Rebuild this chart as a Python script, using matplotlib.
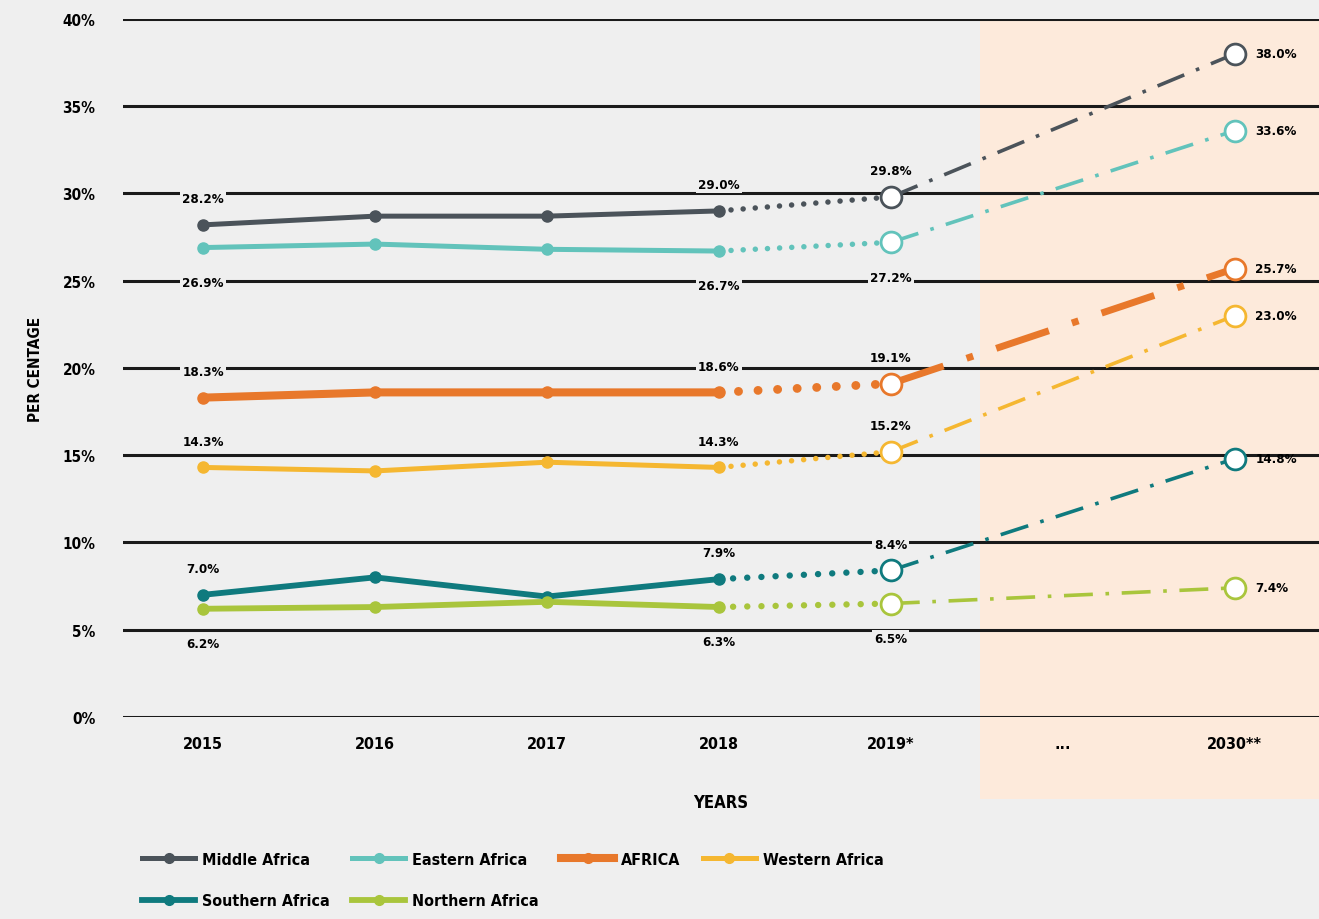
import matplotlib.pyplot as plt
from matplotlib.patches import Rectangle
from matplotlib.lines import Line2D

plt.rcParams['font.family'] = ['DejaVu Sans']
plt.rcParams['font.stretch'] = 'condensed'
plt.rcParams['font.weight'] = 'bold'
plt.rcParams['axes.labelweight'] = 'bold'

years = ["2015", "2016", "2017", "2018", "2019*", "...", "2030**"]
hist_x = [0, 1, 2, 3]
x_2019 = 4
x_2030 = 6

regions = ["Middle Africa", "Eastern Africa", "AFRICA", "Western Africa",
           "Southern Africa", "Northern Africa"]
middle = [28.2, 28.7, 28.7, 29.0, 29.8, 38.0]
eastern = [26.9, 27.1, 26.8, 26.7, 27.2, 33.6]
africa = [18.3, 18.6, 18.6, 18.6, 19.1, 25.7]
western = [14.3, 14.1, 14.6, 14.3, 15.2, 23.0]
southern = [7.0, 8.0, 6.9, 7.9, 8.4, 14.8]
northern = [6.2, 6.3, 6.6, 6.3, 6.5, 7.4]

label_above = [True, False, True, True, True, False]
colors = ["#4b535a", "#62c3bb", "#e8782b", "#f5b731", "#0f7a7e", "#a9c53c"]
widths = [3.6, 3.6, 5.8, 3.6, 4.2, 4.2]
all_series = [middle, eastern, africa, western, southern, northern]

bg = "#efefef"
fig = plt.figure(figsize=(13.19, 9.20), dpi=100, facecolor=bg)
ax = fig.add_axes([0.0933, 0.2196, 0.9067, 0.7587])
ax.set_facecolor(bg)
ax.set_xlim(-0.465, 6.49)
ax.set_ylim(0, 40)
for s in ax.spines.values():
    s.set_visible(False)

# forecast shading
ax.add_patch(Rectangle((4.52, -4.7), 2.0, 44.7, facecolor="#fdeadb",
                       edgecolor="none", clip_on=False, zorder=0))

for yv in range(0, 45, 5):
    ax.axhline(yv, color="#1a1a1a", lw=2.2, zorder=1)

ax.set_yticks(range(0, 45, 5))
ax.set_yticklabels([f"{v}%" for v in range(0, 45, 5)], fontsize=11)
ax.set_xticks(range(len(years)))
ax.set_xticklabels(years, fontsize=11.5)
ax.tick_params(length=0, pad=14)
ax.tick_params(axis="y", pad=20)
ax.set_xlabel("YEARS", fontsize=12, labelpad=30)
ax.set_ylabel("PER CENTAGE", fontsize=11, labelpad=14)

lab_kw = dict(fontsize=9.5, ha="center", zorder=6,
              bbox=dict(boxstyle="square,pad=0.15", fc=bg, ec="none"))

for vals, c, lw, above in zip(all_series, colors, widths, label_above):
    hist = vals[:4]
    ax.plot(hist_x, hist, color=c, lw=lw, marker="o", ms=8, zorder=4,
            solid_capstyle="round")
    ax.plot([3, x_2019], [vals[3], vals[4]], color=c, lw=lw * 1.1,
            linestyle=(0, (0.01, 2.2)), dash_capstyle="round", zorder=4)
    ax.plot([x_2019, x_2030], [vals[4], vals[5]], color=c,
            lw=5 if lw > 5 else 2.6, linestyle=(0, (8, 3.5, 1, 3.5)), zorder=4)
    ax.plot([x_2019, x_2030], [vals[4], vals[5]], linestyle="none",
            marker="o", ms=15, mfc="white", mec=c, mew=2, zorder=5)

    off = 1.5 if above else -2.0
    for xi, vi in [(0, vals[0]), (3, vals[3]), (x_2019, vals[4])]:
        ax.text(xi, vi + off, f"{vi:.1f}%", va="center", **lab_kw)
    ax.text(x_2030 + 0.12, vals[5], f"{vals[5]:.1f}%", va="center",
            fontsize=9.5, ha="left", zorder=6)

# legend
handles = [Line2D([], [], color=c, lw=lw, marker="o", ms=7)
           for c, lw in zip(colors, widths)]
order = [0, 4, 1, 5, 2, 3]
fig.legend([handles[i] for i in order], [regions[i] for i in order],
           loc="lower left", bbox_to_anchor=(0.097, -0.004), ncol=4,
           frameon=False, fontsize=11.5, handlelength=3.3, columnspacing=1.4,
           labelspacing=1.65, handletextpad=0.45)

fig.savefig("out.png", dpi=100, facecolor=bg)
